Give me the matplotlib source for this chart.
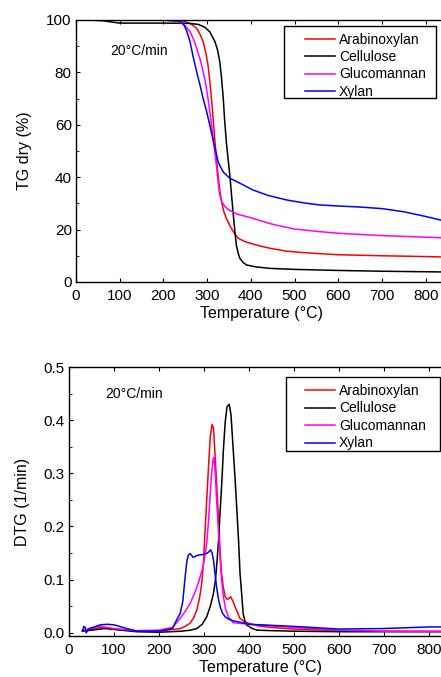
import numpy as np
import matplotlib.pyplot as plt
from matplotlib.ticker import MultipleLocator
from matplotlib.patches import Rectangle

plt.rcParams['font.family'] = ['Liberation Sans', 'DejaVu Sans']

# ---- TG data (temperature in C, mass %) ----
tg_ax_T = [30, 100, 200, 240, 253, 265, 276, 284, 291, 297, 302, 306, 310, 314, 318, 322,
           325, 329, 333, 338, 344, 352, 360, 371, 385, 398, 420, 443, 480, 520, 558, 600,
           700, 800, 850]
tg_ax = [100, 100, 100, 99.8, 99.2, 98.3, 96.8, 94.5, 91.7, 87.5, 82.8, 77, 70, 62, 53.5, 46,
         40.8, 35, 30.7, 27, 24.3, 21.5, 19.2, 16.7, 15.5, 14.8, 13.8, 12.9, 11.8, 11.2,
         10.8, 10.4, 10, 9.7, 9.5]

tg_ce_T = [30, 60, 100, 200, 260, 280, 295, 306, 318, 324, 329, 333, 337, 340, 344, 348,
           352, 356, 360, 364, 367, 371, 375, 382, 390, 410, 443, 500, 600, 700, 800, 850]
tg_ce = [100, 99.7, 98.8, 98.8, 98.7, 98.3, 97.2, 95.5, 91.7, 88.5, 84, 78, 70, 62, 53.5, 47,
         40.8, 33, 25.6, 18.5, 14, 11, 9, 7.5, 6.5, 5.8, 5.2, 4.8, 4.4, 4.1, 3.9, 3.8]

tg_gm_T = [30, 100, 200, 238, 250, 261, 269, 276, 284, 291, 297, 302, 307, 312, 317, 322,
           326, 329, 334, 341, 350, 367, 400, 450, 500, 558, 600, 700, 800, 850]
tg_gm = [100, 100, 100, 99.2, 97.8, 95.5, 92.6, 89.2, 85, 80.3, 75.5, 70, 64, 57.4, 50.5,
         43.4, 37, 33.2, 30.5, 28.7, 27.5, 26, 24.5, 22, 20.2, 19.2, 18.6, 17.7, 17.1, 16.8]

tg_xy_T = [30, 100, 200, 235, 245, 253, 261, 268, 276, 284, 291, 299, 306, 312, 318, 322,
           325, 331, 337, 344, 352, 375, 405, 440, 482, 520, 558, 600, 650, 700, 750, 800,
           850]
tg_xy = [100, 100, 100, 99.6, 98.7, 96, 91.7, 86, 80.3, 75, 70, 65, 60, 55.5, 51, 48.3,
         46, 43.8, 42, 40.8, 39.6, 37.7, 35.1, 33, 31.3, 30.2, 29.4, 29, 28.6, 28, 26.8,
         25, 23]

# ---- DTG data (1/min) ----
dtg_ax_T = [30, 70, 100, 150, 200, 230, 247, 258, 269, 277, 284, 290, 295, 299, 302, 306,
            310, 314, 318, 321, 324, 328, 332, 336, 339, 343, 347, 351, 355, 359, 364, 369,
            375, 380, 391, 420, 450, 500, 600, 700, 800, 850]
dtg_ax = [0.004, 0.010, 0.007, 0.003, 0.004, 0.006, 0.008, 0.012, 0.018, 0.028, 0.043,
          0.065, 0.093, 0.135, 0.187, 0.25, 0.312, 0.37, 0.392, 0.385, 0.343, 0.28, 0.218,
          0.15, 0.112, 0.085, 0.068, 0.063, 0.064, 0.068, 0.06, 0.049, 0.037, 0.027, 0.02,
          0.013, 0.010, 0.007, 0.004, 0.003, 0.003, 0.003]

dtg_ce_T = [30, 80, 150, 200, 250, 270, 284, 296, 306, 314, 321, 325, 328, 332, 336, 340,
            343, 347, 351, 356, 360, 365, 369, 373, 377, 380, 384, 387, 391, 395, 405, 417,
            450, 500, 600, 700, 800, 850]
dtg_ce = [0.003, 0.008, 0.002, 0.001, 0.003, 0.005, 0.008, 0.016, 0.030, 0.05, 0.074,
          0.097, 0.124, 0.17, 0.231, 0.29, 0.343, 0.395, 0.425, 0.43, 0.41, 0.343, 0.29,
          0.231, 0.17, 0.112, 0.07, 0.036, 0.022, 0.0145, 0.009, 0.005, 0.004, 0.003,
          0.002, 0.002, 0.002, 0.002]

dtg_gm_T = [30, 70, 100, 150, 200, 230, 247, 258, 269, 278, 287, 293, 298, 302, 306, 310,
            313, 317, 320, 322, 325, 328, 332, 336, 339, 343, 348, 354, 365, 400, 500, 600,
            700, 800, 850]
dtg_gm = [0.005, 0.012, 0.008, 0.004, 0.005, 0.010, 0.027, 0.04, 0.055, 0.072, 0.093, 0.11,
          0.124, 0.145, 0.168, 0.21, 0.25, 0.3, 0.325, 0.33, 0.3, 0.25, 0.19, 0.137, 0.1,
          0.068, 0.045, 0.03, 0.019, 0.016, 0.010, 0.005, 0.003, 0.002, 0.002]

dtg_xy_T = [30, 33, 36, 38, 45, 70, 85, 100, 120, 150, 200, 230, 239, 247, 253, 258, 262,
            265, 269, 273, 276, 281, 287, 295, 302, 309, 315, 318, 321, 324, 328, 332, 336,
            341, 347, 356, 365, 400, 450, 500, 600, 700, 800, 850]
dtg_xy = [0.004, 0.012, 0.010, 0.0, 0.008, 0.015, 0.016, 0.015, 0.010, 0.003, 0.003,
          0.008, 0.024, 0.036, 0.06, 0.105, 0.135, 0.146, 0.149, 0.145, 0.142, 0.144,
          0.146, 0.147, 0.148, 0.151, 0.156, 0.15, 0.137, 0.115, 0.086, 0.064, 0.049, 0.037,
          0.03, 0.025, 0.0226, 0.016, 0.014, 0.012, 0.007, 0.008, 0.011, 0.011]

names = ['Arabinoxylan', 'Cellulose', 'Glucomannan', 'Xylan']
colors = ['#ff0000', '#000000', '#ff00ff', '#0000ff']

fig = plt.figure(figsize=(4.41, 6.77), dpi=100)

ax1 = fig.add_axes([0.1723, 0.5835, 0.8424, 0.387])
ax2 = fig.add_axes([0.1565, 0.0606, 0.8673, 0.3973])

tg = [(tg_ax_T, tg_ax), (tg_ce_T, tg_ce), (tg_gm_T, tg_gm), (tg_xy_T, tg_xy)]
dtg = [(dtg_ax_T, dtg_ax), (dtg_ce_T, dtg_ce), (dtg_gm_T, dtg_gm), (dtg_xy_T, dtg_xy)]

for (x, y), n, c in zip(tg, names, colors):
    ax1.plot(x, y, color=c, lw=1.1, label=n)
for (x, y), n, c in zip(dtg, names, colors):
    ax2.plot(x, y, color=c, lw=1.1, label=n)

ax1.set_xlim(0, 850)
ax1.set_ylim(0, 100)
ax1.yaxis.set_major_locator(MultipleLocator(20))
ax1.yaxis.set_minor_locator(MultipleLocator(10))
ax1.set_ylabel('TG dry (%)', fontsize=11.5, labelpad=10)
ax1.text(78, 88, '20°C/min', fontsize=10, va='center')

ax2.set_xlim(0, 850)
ax2.set_ylim(-0.006, 0.5)
ax2.yaxis.set_major_locator(MultipleLocator(0.1))
ax2.yaxis.set_minor_locator(MultipleLocator(0.05))
ax2.yaxis.set_major_formatter(plt.FormatStrFormatter('%.1f'))
ax2.set_ylabel('DTG (1/min)', fontsize=11.5, labelpad=10)
ax2.text(80, 0.45, '20°C/min', fontsize=10, va='center')

for ax in (ax1, ax2):
    ax.xaxis.set_major_locator(MultipleLocator(100))
    ax.set_xlabel('Temperature (°C)', fontsize=11.5, labelpad=2)
    ax.tick_params(direction='in', length=3, width=0.8, labelsize=11, pad=3,
                   top=True, bottom=True)
    ax.tick_params(axis='x', pad=5)
    ax.tick_params(which='minor', direction='in', length=2, width=0.6)
    for s in ax.spines.values():
        s.set_linewidth(1.0)

# legends: frame drawn as a plain rectangle, entries placed inside it
leg_boxes = [(ax1, (0.560, 0.702, 0.409, 0.275), (0.616, 0.952)),
             (ax2, (0.567, 0.688, 0.403, 0.275), (0.617, 0.937))]
for ax, (bx, by, bw, bh), anchor in leg_boxes:
    ax.add_patch(Rectangle((bx, by), bw, bh, transform=ax.transAxes, fill=True,
                           facecolor='white', edgecolor='black', lw=1.0, zorder=5))
    leg = ax.legend(loc='upper left', bbox_to_anchor=anchor, borderaxespad=0,
                    borderpad=0, fontsize=10, frameon=False, handlelength=2.15,
                    handletextpad=0.3, labelspacing=0.25)
    leg.set_zorder(6)

fig.savefig('out.png', dpi=100)
